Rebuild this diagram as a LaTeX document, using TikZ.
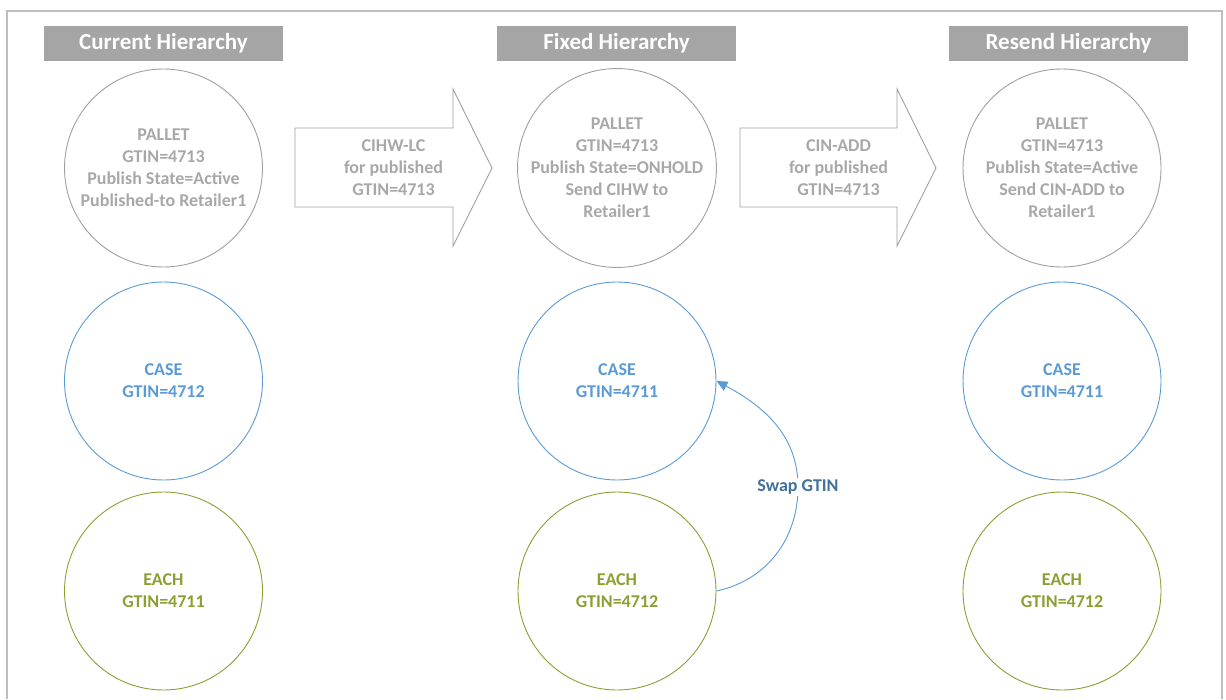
\documentclass[tikz,border=0pt]{standalone}
\usepackage{fontspec}
\setmainfont{Carlito}
\usetikzlibrary{arrows.meta}
\definecolor{hdrgray}{HTML}{A5A5A5}
\definecolor{txtgray}{HTML}{A8A8A8}
\definecolor{lngray}{HTML}{A0A0A0}
\definecolor{framegray}{HTML}{BFBFBF}
\definecolor{caseblue}{HTML}{5B9BD5}
\definecolor{eachgreen}{HTML}{8C9F33}
\definecolor{swapblue}{HTML}{41719C}
\tikzset{
  hdr/.style={rectangle, fill=hdrgray, text=white, minimum width=239pt, minimum height=35pt, inner sep=0pt, font=\fontsize{23}{26}\selectfont\bfseries},
  circ/.style={circle, draw, line width=0.9pt, minimum size=198pt, inner sep=0pt, align=center, font=\fontsize{18}{22}\selectfont\bfseries},
  pallet/.style={circ, draw=lngray, text=txtgray},
  casec/.style={circ, draw=caseblue, text=caseblue},
  eachc/.style={circ, draw=eachgreen, text=eachgreen},
  blockarrow/.style={draw=lngray, line width=0.9pt, fill=white},
  arrtxt/.style={align=center, text=txtgray, font=\fontsize{18}{22}\selectfont\bfseries},
  swap/.style={draw=caseblue, line width=0.9pt, -{Triangle[length=11pt,width=10pt]}},
  swaplbl/.style={fill=white, inner sep=2pt, text=swapblue, font=\fontsize{18}{20}\selectfont\bfseries}
}
\begin{document}
\begin{tikzpicture}[x=1pt,y=-1pt]
\useasboundingbox (0,0) rectangle (1226,699);
% frame
\draw[framegray, line width=1.6pt] (7,699) -- (7,11) -- (1222,11) -- (1222,699);
% headers
\node[hdr] (h1) at (163.5,43.5) {Current Hierarchy};
\node[hdr] (h2) at (616.5,43.5) {Fixed Hierarchy};
\node[hdr] (h3) at (1068.5,43.5) {Resend Hierarchy};
% column 1
\node[pallet] (p1) at (163.5,168) {PALLET\\GTIN=4713\\Publish State=Active\\Published-to Retailer1};
\node[casec] (c1) at (163.5,381) {CASE\\GTIN=4712};
\node[eachc] (e1) at (163.5,591) {EACH\\GTIN=4711};
% column 2
\node[pallet] (p2) at (617,168) {PALLET\\GTIN=4713\\Publish State=ONHOLD\\Send CIHW to\\Retailer1};
\node[casec] (c2) at (617,381) {CASE\\GTIN=4711};
\node[eachc] (e2) at (617,591) {EACH\\GTIN=4712};
% column 3
\node[pallet] (p3) at (1062,168) {PALLET\\GTIN=4713\\Publish State=Active\\Send CIN-ADD to\\Retailer1};
\node[casec] (c3) at (1062,381) {CASE\\GTIN=4711};
\node[eachc] (e3) at (1062,591) {EACH\\GTIN=4712};
% block arrows
\draw[blockarrow] (295,128) -- (453,128) -- (453,89) -- (492,168) -- (453,246) -- (453,207) -- (295,207) -- cycle;
\node[arrtxt] (a1) at (393.5,168) {CIHW-LC\\for published\\GTIN=4713};
\draw[blockarrow] (740,128) -- (897,128) -- (897,89) -- (936,168) -- (897,246) -- (897,207) -- (740,207) -- cycle;
\node[arrtxt] (a2) at (838.5,168) {CIN-ADD\\for published\\GTIN=4713};
% swap
\coordinate (sm) at (798,487);
\draw[swap] (e2.east) to[out=12,in=-90] (sm) to[out=90,in=-28] (c2.east);
\node[swaplbl] (sl) at (sm) {Swap GTIN};
\end{tikzpicture}
\end{document}
